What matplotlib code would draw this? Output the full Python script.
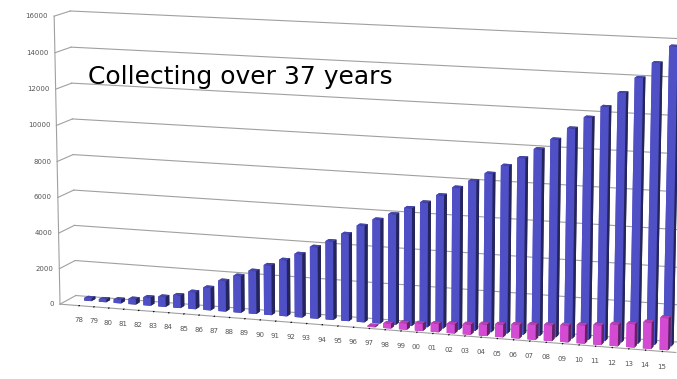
import numpy as np
import matplotlib
matplotlib.use('Agg')
import matplotlib.pyplot as plt
from mpl_toolkits.mplot3d import proj3d

years = ['78', '79', '80', '81', '82', '83', '84', '85', '86', '87', '88', '89',
         '90', '91', '92', '93', '94', '95', '96', '97', '98', '99', '00', '01',
         '02', '03', '04', '05', '06', '07', '08', '09', '10', '11', '12', '13',
         '14', '15']
total = [150, 150, 200, 300, 450, 550, 700, 950, 1250, 1700, 2040, 2380,
         2760, 3110, 3500, 3950, 4320, 4780, 5290, 5680, 6030, 6420, 6780, 7220,
         7690, 8100, 8550, 9020, 9480, 10000, 10570, 11200, 11820, 12430, 13200, 14020,
         14840, 15740]
recent_years = ['97', '98', '99', '00', '01', '02', '03', '04', '05', '06', '07',
                '08', '09', '10', '11', '12', '13', '14', '15']
recent = [50, 250, 350, 400, 450, 500, 550, 620, 680, 740, 800,
          850, 900, 980, 1050, 1150, 1250, 1400, 1700]
yticks = [0, 2000, 4000, 6000, 8000, 10000, 12000, 14000, 16000]

W, H = 6.77, 3.79
fig = plt.figure(figsize=(W, H), dpi=100)
hf = W / H
ax = fig.add_axes([0.024, (1 - hf) / 2 + 0.01, 1.0, hf], projection='3d')
ax.computed_zorder = False
ax.set_proj_type('persp', focal_length=0.8)
ax.view_init(elev=11, azim=-72)
ax.set_box_aspect((15.1, 0.95, 7), zoom=1.028)

n = len(years)
xs = np.arange(n)
x0, x1 = -1.3, n - 0.2
ax.set_xlim(x0, x1)
ax.set_ylim(0, 2)
ax.set_zlim(0, 16000)

gc = '#a0a0a0'
for z in yticks:
    ax.plot([x0, x1], [2, 2], [z, z], color=gc, lw=0.8, zorder=0)
    ax.plot([x0, x0], [0, 2], [z, z], color=gc, lw=0.8, zorder=0)
ax.plot([x0, x0], [0, 0], [0, 16000], color=gc, lw=0.8, zorder=0)

ax.bar3d(xs - 0.25, np.full(n, 1.1), np.zeros(n), 0.5, 0.5, total,
         color='#5a5ae0', shade=True, zorder=2)
ri = np.array([years.index(y) for y in recent_years])
ax.bar3d(ri - 0.25, np.full(len(ri), 0.3), np.zeros(len(ri)), 0.5, 0.5, recent,
         color='#ee55ee', shade=True, zorder=3)

for axis in (ax.xaxis, ax.yaxis, ax.zaxis):
    axis.set_pane_color((1, 1, 1, 0))
    axis.pane.set_edgecolor((1, 1, 1, 0))
    axis.line.set_color(gc)
ax.zaxis.line.set_color((1, 1, 1, 0))
ax.yaxis.line.set_color((1, 1, 1, 0))
ax.grid(False)
ax.set_xticks(xs)
ax.set_xticklabels(years, fontsize=5, color='#555555')
ax.set_yticks([])
ax.set_zticks([])
ax.tick_params(axis='both', length=0, pad=2)

# value-axis labels placed through the 3D projection
fig.canvas.draw()
M = ax.get_proj()
for z in yticks:
    px, py, _ = proj3d.proj_transform(x0, 0, z, M)
    dx, dy = ax.transData.transform((px, py))
    fx, fy = fig.transFigure.inverted().transform((dx - 6, dy))
    fig.text(fx, fy, str(z), fontsize=5, color='#555555', ha='right', va='center')

fig.text(88 / 677, 1 - 77 / 379, 'Collecting over 37 years', fontsize=18,
         va='center', ha='left', color='black')

fig.savefig('out.png', dpi=100)
